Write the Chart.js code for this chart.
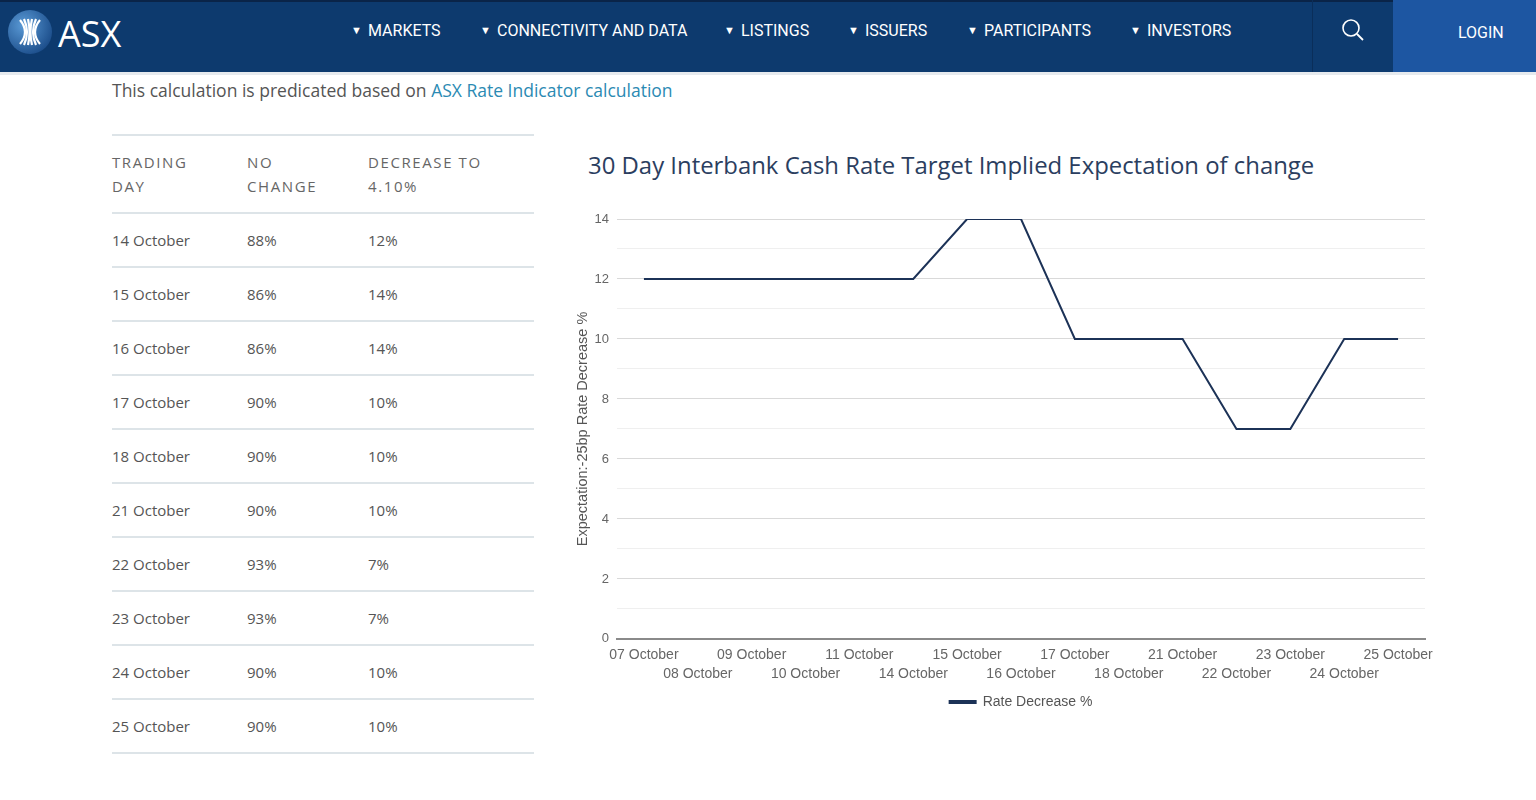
<!DOCTYPE html>
<html>
<head>
<meta charset="utf-8">
<script src="https://cdn.jsdelivr.net/npm/chart.js@4"></script>
<style>
  body { margin: 0; background: #fff; font-family: "Open Sans", sans-serif; width: 1536px; height: 800px; overflow: hidden; position: relative; }
  .topbar { position: absolute; left: 0; top: 0; width: 1536px; height: 72px; background: #0d3a6e; border-top: 2px solid #0a2448; box-sizing: border-box; }
  .shadow { position: absolute; left: 0; top: 72px; width: 1536px; height: 3px; background: #e6eaee; }
  .logo { position: absolute; left: 8px; top: 8px; }
  .brand { position: absolute; left: 58px; top: 9px; color: #fff; font-size: 36px; font-family: "Open Sans", sans-serif; }
  .nav { position: absolute; top: 21px; color: #fff; font-family: "Roboto", sans-serif; font-size: 16px; white-space: nowrap; }
  .nav .tri { display: inline-block; width: 17px; font-size: 11px; position: relative; top: -2px; }
  .searchbox { position: absolute; left: 1312px; top: 0; width: 81px; height: 72px; border-left: 1px solid #0a2e5a; }
  .login { position: absolute; left: 1393px; top: 0; width: 143px; height: 72px; background: #1d56a2; }
  .login span { position: absolute; left: 65px; top: 23px; color: #fff; font-family: "Roboto", sans-serif; font-size: 16px; }
  .intro { position: absolute; left: 112px; top: 78px; font-size: 17.5px; color: #555; }
  .intro a { color: #2b8ab3; text-decoration: none; }
  table { position: absolute; left: 112px; top: 134px; width: 422px; border-collapse: collapse; font-size: 15px; color: #555; }
  th { text-align: left; font-weight: 400; letter-spacing: 1.6px; color: #666; line-height: 24px; padding: 14px 0 14px 0; vertical-align: top; }
  td { height: 52px; padding: 0; }
  tr { border-top: 2px solid #dde4e8; border-bottom: 2px solid #dde4e8; }
  .title { position: absolute; left: 588px; top: 148px; font-size: 23.9px; color: #2b3e5f; margin: 0; font-weight: 400; }
  .chartbox { position: absolute; left: 568px; top: 195px; width: 880px; height: 524px; }
</style>
</head>
<body>
<div class="topbar"></div>
<div class="shadow"></div>
<svg class="logo" width="46" height="48" viewBox="0 0 46 48">
  <defs>
    <radialGradient id="g" cx="35%" cy="35%" r="70%">
      <stop offset="0" stop-color="#5a9ad6"/>
      <stop offset="1" stop-color="#1d4f8c"/>
    </radialGradient>
  </defs>
  <circle cx="22" cy="24" r="22" fill="url(#g)"/>
  <g stroke="#fff" stroke-width="2.2" fill="none">
    <path d="M12 12 Q22 24 12 36"/><path d="M16 11 Q22 24 16 37"/><path d="M20 11 Q23 24 20 37"/>
    <path d="M32 12 Q22 24 32 36"/><path d="M28 11 Q22 24 28 37"/><path d="M24 11 Q21 24 24 37"/>
  </g>
</svg>
<div class="brand">ASX</div>
<div class="nav" style="left:351px"><span class="tri">&#9660;</span>MARKETS</div>
<div class="nav" style="left:480px"><span class="tri">&#9660;</span>CONNECTIVITY AND DATA</div>
<div class="nav" style="left:724px"><span class="tri">&#9660;</span>LISTINGS</div>
<div class="nav" style="left:848px"><span class="tri">&#9660;</span>ISSUERS</div>
<div class="nav" style="left:967px"><span class="tri">&#9660;</span>PARTICIPANTS</div>
<div class="nav" style="left:1130px"><span class="tri">&#9660;</span>INVESTORS</div>
<div class="searchbox">
  <svg width="81" height="66" viewBox="0 0 81 66"><circle cx="38" cy="28" r="8" stroke="#fff" stroke-width="1.6" fill="none"/><line x1="44" y1="34" x2="50" y2="40" stroke="#fff" stroke-width="1.8"/></svg>
</div>
<div class="login"><span>LOGIN</span></div>

<div class="intro">This calculation is predicated based on <a href="#">ASX Rate Indicator calculation</a></div>

<table id="tbl"></table>

<h2 class="title">30 Day Interbank Cash Rate Target Implied Expectation of change</h2>
<div class="chartbox"><canvas id="myChart"></canvas></div>

<script>
// table data
const tableDays = ['14 October', '15 October', '16 October', '17 October', '18 October', '21 October', '22 October', '23 October', '24 October', '25 October'];
const noChange = ['88%', '86%', '86%', '90%', '90%', '90%', '93%', '93%', '90%', '90%'];
const decreaseTo = ['12%', '14%', '14%', '10%', '10%', '10%', '7%', '7%', '10%', '10%'];

// chart data
const chartDays = ['07 October', '08 October', '09 October', '10 October', '11 October', '14 October', '15 October',
    '16 October', '17 October', '18 October', '21 October', '22 October', '23 October', '24 October', '25 October'];
const rateDecrease = [12, 12, 12, 12, 12, 12, 14, 14, 10, 10, 10, 7, 7, 10, 10];

// build table
const tbl = document.getElementById('tbl');
let html = '<tr><th style="width:135px">TRADING<br>DAY</th><th style="width:121px">NO<br>CHANGE</th><th>DECREASE TO<br>4.10%</th></tr>';
tableDays.forEach((d, i) => {
    html += '<tr><td>' + d + '</td><td>' + noChange[i] + '</td><td>' + decreaseTo[i] + '</td></tr>';
});
tbl.innerHTML = html;

// keep the legend centred under the plot area rather than the whole canvas
const centerLegend = {
    id: 'centerLegend',
    beforeDraw(chart) {
        const lg = chart.legend;
        if (!lg) return;
        const shift = (chart.chartArea.left + chart.chartArea.right) / 2 - (lg.left + lg.right) / 2;
        lg.left += shift;
        lg.right += shift;
    }
};

const lineColor = '#1c3257';
const ctx = document.getElementById('myChart').getContext('2d');
const myChart = new Chart(ctx, {
    type: 'line',
    data: {
        labels: chartDays,
        datasets: [{
            label: 'Rate Decrease %',
            data: rateDecrease,
            borderColor: lineColor,
            backgroundColor: lineColor,
            borderWidth: 2,
            pointRadius: 0,
            tension: 0
        }]
    },
    plugins: [centerLegend],
    options: {
        responsive: true,
        maintainAspectRatio: false,
        animation: false,
        layout: { padding: { top: 24, right: 23, bottom: 0, left: 0 } },
        scales: {
            x: {
                offset: true,
                grid: { display: false, drawTicks: false },
                border: { display: true, color: '#8a8a8a', width: 2 },
                ticks: {
                    autoSkip: false,
                    maxRotation: 0,
                    minRotation: 0,
                    padding: 7,
                    color: '#666',
                    font: { family: 'Liberation Sans', size: 14, lineHeight: 1.36 },
                    callback: function (value, index) {
                        const lbl = this.getLabelForValue(value);
                        return index % 2 === 0 ? [lbl, ''] : ['', lbl];
                    }
                }
            },
            y: {
                min: 0,
                max: 14,
                border: { display: false },
                afterFit: (scale) => { scale.width = 49; },
                grid: {
                    drawTicks: false,
                    color: (c) => (c.tick && c.tick.value % 2 === 0) ? '#d9d9d9' : '#efefef',
                    lineWidth: 1
                },
                ticks: {
                    stepSize: 1,
                    padding: 8,
                    color: '#666',
                    font: { family: 'Liberation Sans', size: 13 },
                    callback: (v) => v % 2 === 0 ? v : ''
                },
                title: {
                    display: true,
                    text: 'Expectation:-25bp Rate Decrease %',
                    color: '#555',
                    font: { family: 'Liberation Sans', size: 14.5 },
                    padding: { top: 6, bottom: 0 }
                }
            }
        },
        plugins: {
            legend: {
                position: 'bottom',
                labels: {
                    boxWidth: 26,
                    boxHeight: 2,
                    color: '#555',
                    padding: 4,
                    font: { family: 'Liberation Sans', size: 14 }
                }
            },
            tooltip: { enabled: false }
        }
    }
});
</script>
</body>
</html>
